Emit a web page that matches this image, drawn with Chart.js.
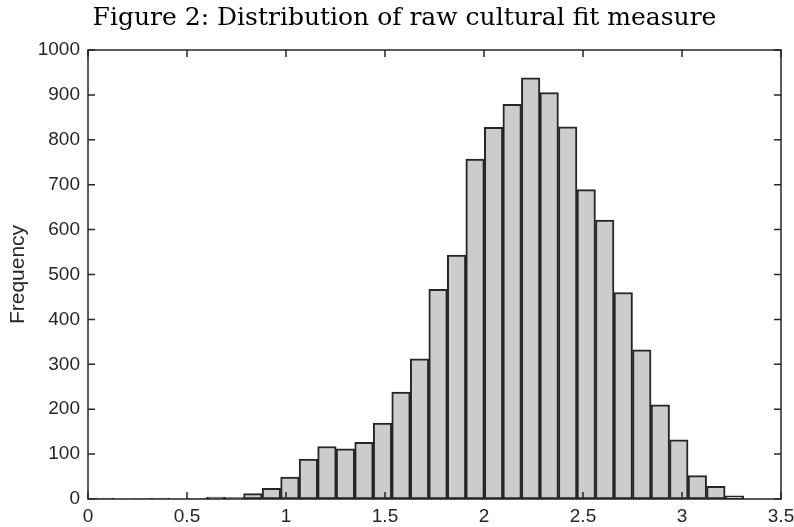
<!DOCTYPE html>
<html>
<head>
<meta charset="utf-8">
<script src="https://cdn.jsdelivr.net/npm/chart.js@4.4.1/dist/chart.umd.min.js"></script>
<style>
  body { margin: 0; background: #fff; }
  canvas { display: block; }
</style>
</head>
<body>
<canvas id="hist" width="794" height="527"></canvas>
<script>
// bin centres of the histogram (bin width ~0.0935)
const binCenters = [
  0.0842, 0.1777, 0.2713, 0.3648, 0.4584, 0.5519, 0.6454, 0.7390, 0.8325, 0.9261,
  1.0196, 1.1131, 1.2067, 1.3002, 1.3938, 1.4873, 1.5808, 1.6744, 1.7679, 1.8615,
  1.9550, 2.0485, 2.1421, 2.2356, 2.3292, 2.4227, 2.5162, 2.6098, 2.7033, 2.7969,
  2.8904, 2.9839, 3.0775, 3.1710, 3.2646
];
const frequency = [
  2, 0, 1, 2, 0, 1, 4, 3, 12, 24,
  49, 89, 117, 112, 126, 169, 238, 312, 467, 543,
  757, 828, 879, 938, 905, 829, 689, 621, 460, 332,
  210, 132, 52, 28, 7
];
const xTicks = [0, 0.5, 1, 1.5, 2, 2.5, 3, 3.5];
const yTicks = [0, 100, 200, 300, 400, 500, 600, 700, 800, 900, 1000];

const axisColor = '#262626';

// matlab style box with ticks pointing inwards on all four sides
const frameTicks = {
  id: 'frameTicks',
  afterLayout(chart) {
    // title sits a little right of the canvas centre in the original
    if (chart.titleBlock) chart.titleBlock.left += 28;
  },
  afterDatasetsDraw(chart) {
    const { ctx, chartArea: a, scales: { x, y } } = chart;
    const len = 7;
    ctx.save();
    ctx.strokeStyle = axisColor;
    ctx.lineWidth = 1.5;
    ctx.beginPath();
    xTicks.forEach(v => {
      const px = x.getPixelForValue(v);
      ctx.moveTo(px, a.bottom); ctx.lineTo(px, a.bottom - len);
      ctx.moveTo(px, a.top); ctx.lineTo(px, a.top + len);
    });
    yTicks.forEach(v => {
      const py = y.getPixelForValue(v);
      ctx.moveTo(a.left, py); ctx.lineTo(a.left + len, py);
      ctx.moveTo(a.right, py); ctx.lineTo(a.right - len, py);
    });
    ctx.stroke();
    ctx.strokeRect(a.left, a.top, a.right - a.left, a.bottom - a.top);
    ctx.restore();
  }
};

new Chart(document.getElementById('hist').getContext('2d'), {
  type: 'bar',
  data: {
    datasets: [{
      label: 'Frequency',
      data: binCenters.map((c, i) => ({ x: c, y: frequency[i] })),
      backgroundColor: '#cccccc',
      borderColor: axisColor,
      borderWidth: 2,
      borderSkipped: false,
      barPercentage: 1,
      categoryPercentage: 1
    }]
  },
  options: {
    responsive: false,
    animation: false,
    layout: { padding: { top: 0, right: 13, bottom: 0, left: 0 } },
    plugins: {
      legend: { display: false },
      tooltip: { enabled: false },
      title: {
        display: true,
        text: 'Figure 2: Distribution of raw cultural fit measure',
        color: '#000',
        font: { family: 'DejaVu Serif', size: 25, weight: 'normal', lineHeight: 1.2 },
        padding: { top: 3, bottom: 17 }
      }
    },
    scales: {
      x: {
        type: 'linear',
        min: 0,
        max: 3.5,
        offset: false,
        grid: { display: false, offset: false, drawTicks: false },
        border: { display: false },
        afterBuildTicks: s => { s.ticks = xTicks.map(v => ({ value: v })); },
        afterFit: s => { s.height = 28; s.paddingLeft = 0; s.paddingRight = 0; },
        ticks: {
          autoSkip: false,
          maxRotation: 0,
          padding: 6,
          color: axisColor,
          font: { family: 'Liberation Sans', size: 19 },
          callback: v => String(v)
        }
      },
      y: {
        min: 0,
        max: 1000,
        grid: { display: false, drawTicks: false },
        border: { display: false },
        afterBuildTicks: s => { s.ticks = yTicks.map(v => ({ value: v })); },
        afterFit: s => { s.width = 88; },
        title: {
          display: true,
          text: 'Frequency',
          color: axisColor,
          font: { family: 'Liberation Sans', size: 21 },
          padding: { top: 6, bottom: 0 }
        },
        ticks: {
          padding: 8,
          color: axisColor,
          font: { family: 'Liberation Sans', size: 19 },
          callback: v => String(v)
        }
      }
    }
  },
  plugins: [frameTicks]
});
</script>
</body>
</html>
